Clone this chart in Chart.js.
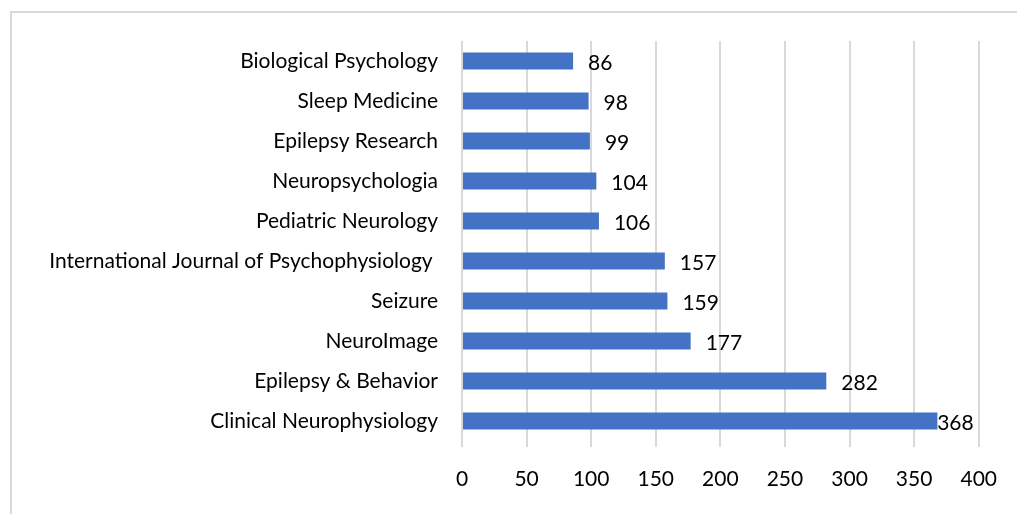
<!DOCTYPE html>
<html>
<head>
<meta charset="utf-8">
<script src="https://cdn.jsdelivr.net/npm/chart.js@4.4.0/dist/chart.umd.min.js"></script>
<style>
  html, body { margin: 0; padding: 0; background: #fff; overflow: hidden; }
  #wrap { position: relative; width: 1017px; height: 514px; }
  #frame {
    position: absolute; left: 10px; top: 11px; width: 1100px; height: 600px;
    border-left: 2px solid #d9d9d9; border-top: 2px solid #d9d9d9;
  }
  canvas { position: absolute; left: 0; top: 0; }
</style>
</head>
<body>
<div id="wrap">
  <div id="frame"></div>
  <canvas id="chart" width="1017" height="514"></canvas>
</div>
<script>
/* ── Data ───────────────────────────────────────────────────── */
const JOURNALS = [
  'Biological Psychology',
  'Sleep Medicine',
  'Epilepsy Research',
  'Neuropsychologia',
  'Pediatric Neurology',
  'International Journal of Psychophysiology ',
  'Seizure',
  'NeuroImage',
  'Epilepsy & Behavior',
  'Clinical Neurophysiology',
];
const COUNTS = [86, 98, 99, 104, 106, 157, 159, 177, 282, 368];
const X_MIN = 0, X_MAX = 400, X_STEP = 50;

const FONT = "Lato, 'Open Sans', sans-serif";
const FONT_SIZE = 21;
const BAR_COLOR = '#4472c4';

/* ── Value labels at bar ends ───────────────────────────────── */
const valueLabels = {
  id: 'valueLabels',
  afterDatasetsDraw(chart) {
    const { ctx, chartArea } = chart;
    ctx.save();
    ctx.font = `${FONT_SIZE}px ${FONT}`;
    ctx.fillStyle = '#000';
    ctx.textBaseline = 'middle';
    chart.getDatasetMeta(0).data.forEach((bar, i) => {
      const txt = String(COUNTS[i]);
      const w = ctx.measureText(txt).width;
      const x = Math.min(bar.x + 15, chartArea.right - 5 - w);
      ctx.fillText(txt, x, bar.y + 2);
    });
    ctx.restore();
  },
};

/* ── Chart ──────────────────────────────────────────────────── */
new Chart(document.getElementById('chart'), {
  type: 'bar',
  data: {
    labels: JOURNALS,
    datasets: [{
      data: COUNTS,
      backgroundColor: BAR_COLOR,
      borderWidth: 0,
      barPercentage: 0.43,
      categoryPercentage: 1.0,
    }],
  },
  options: {
    indexAxis: 'y',
    responsive: false,
    animation: false,
    layout: { padding: { top: 41, right: 35, left: 0, bottom: 0 } },
    plugins: { legend: { display: false }, tooltip: { enabled: false } },
    scales: {
      x: {
        min: X_MIN,
        max: X_MAX,
        ticks: { stepSize: X_STEP, color: '#000', padding: 20, font: { family: FONT, size: FONT_SIZE } },
        grid: { color: '#d9d9d9', lineWidth: 2, tickLength: 6 },
        border: { display: false },
        afterFit: s => { s.height = 73; },
      },
      y: {
        ticks: { color: '#000', padding: 16, font: { family: FONT, size: FONT_SIZE } },
        grid: { display: false },
        border: { display: false },
        afterFit: s => { s.width = 462; },
      },
    },
  },
  plugins: [valueLabels],
});
</script>
</body>
</html>
